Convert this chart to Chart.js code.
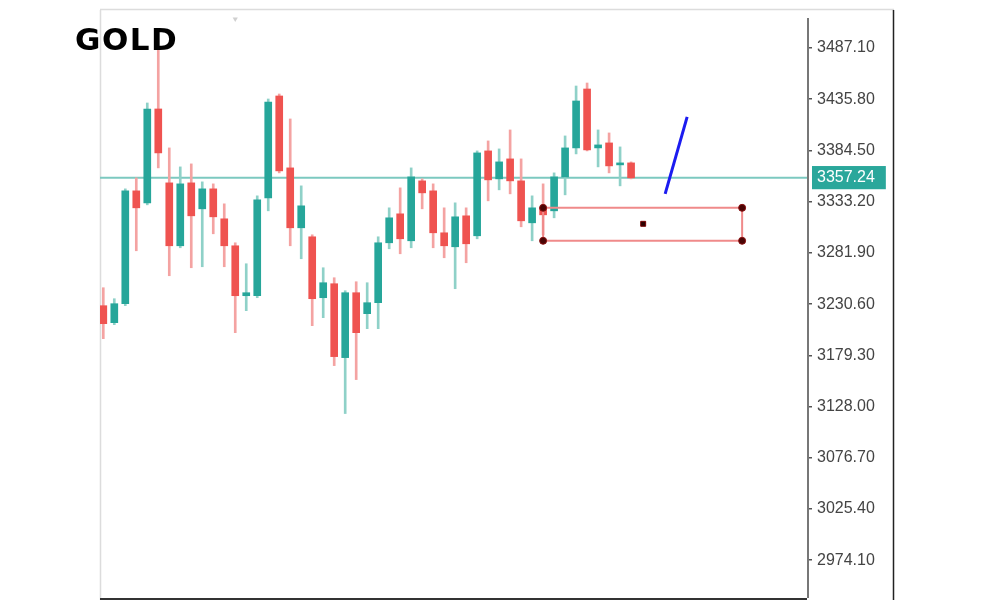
<!DOCTYPE html>
<html>
<head>
<meta charset="utf-8">
<script src="https://cdn.jsdelivr.net/npm/chart.js@4.4.1/dist/chart.umd.min.js"></script>
<style>
  html, body { margin: 0; padding: 0; background: #fff; }
  #wrap { position: relative; width: 1000px; height: 600px; }
  #title { position: absolute; left: 75px; top: 24px; font-family: "DejaVu Sans", sans-serif; font-weight: 700; font-size: 31px; line-height: 31px; letter-spacing: 1.5px; color: #000; z-index: 2; }
  canvas { position: absolute; left: 0; top: 0; }
</style>
</head>
<body>
<div id="wrap">
  <div id="title">GOLD</div>
  <canvas id="c" width="1000" height="600"></canvas>
</div>
<script>
// ---- data ----
const candleIndex = [0,1,2,3,4,5,6,7,8,9,10,11,12,13,14,15,16,17,18,19,20,21,22,23,24,25,26,27,28,29,30,31,32,33,34,35,36,37,38,39,40,41,42,43,44,45,46,47,48];
const openPrices  = [3229,3212,3231,3344,3332,3426,3352,3289,3352,3326,3346,3316,3289,3239,3239,3337,3439,3367,3307,3298,3237,3251,3177,3242,3221,3232,3292,3321,3294,3354,3344,3302,3288,3319,3299,3384,3356,3376,3354,3312,3327,3324,3358,3387,3446,3387,3392,3370,3372];
const highPrices  = [3247,3236,3346,3357,3432,3487,3387,3368,3371,3353,3351,3331,3292,3271,3339,3436,3441,3416,3349,3300,3267,3257,3244,3253,3252,3298,3327,3347,3367,3356,3351,3327,3332,3327,3384,3394,3386,3405,3376,3339,3351,3362,3399,3449,3452,3405,3402,3388,3373];
const lowPrices   = [3196,3210,3229,3284,3330,3367,3259,3287,3267,3268,3301,3268,3202,3224,3237,3324,3362,3289,3276,3209,3217,3169,3121,3155,3206,3206,3286,3281,3287,3326,3287,3277,3246,3272,3296,3334,3345,3341,3308,3294,3300,3317,3340,3381,3384,3368,3362,3349,3356];
const closePrices = [3211,3231,3344,3327,3426,3382,3289,3351,3319,3346,3318,3289,3239,3242,3335,3433,3364,3307,3329,3236,3252,3178,3242,3202,3232,3292,3317,3296,3358,3342,3302,3289,3318,3291,3382,3355,3373,3354,3314,3327,3320,3358,3387,3434,3385,3390,3369,3372,3357];
const priceTicks  = [2974.10,3025.40,3076.70,3128.00,3179.30,3230.60,3281.90,3333.20,3384.50,3435.80,3487.10];
const currentPrice = 3357.24;
const zoneBounds  = { x0: 40, x1: 58.1, top: 3327, bottom: 3294, midX: 49.1, midY: 3311 };
const trendLinePoints = [{x: 51.1, y: 3341}, {x: 53.1, y: 3418}];
const shiftMarker = [{x: 12, y: 3516}];

// ---- build datasets ----
const UP = '#26a69a', DOWN = '#ef5350', UP_WICK = '#8fd1c8', DOWN_WICK = '#f4a3a2';
const isUp = candleIndex.map(i => closePrices[i] >= openPrices[i]);

const bodies = candleIndex.map(i => ({x: i, y: [openPrices[i], closePrices[i]]}));
const wicks  = candleIndex.map(i => ({x: i, y: [lowPrices[i], highPrices[i]]}));

const xMin = -0.3, xMax = 64;
const zoneLine = [
  {x: zoneBounds.x0, y: zoneBounds.top}, {x: zoneBounds.x1, y: zoneBounds.top},
  {x: zoneBounds.x1, y: zoneBounds.bottom}, {x: zoneBounds.x0, y: zoneBounds.bottom},
  {x: zoneBounds.x0, y: zoneBounds.top}
];
const zoneCorners = [
  {x: zoneBounds.x0, y: zoneBounds.top}, {x: zoneBounds.x1, y: zoneBounds.top},
  {x: zoneBounds.x1, y: zoneBounds.bottom}, {x: zoneBounds.x0, y: zoneBounds.bottom}
];

const framePlugin = {
  id: 'frame',
  beforeDraw(chart) {
    const ctx = chart.ctx, a = chart.chartArea;
    ctx.save();
    ctx.strokeStyle = '#dcdcdc'; ctx.lineWidth = 1.5;
    ctx.beginPath();
    ctx.moveTo(a.left + 0.5, 10); ctx.lineTo(a.left + 0.5, 600);
    ctx.moveTo(a.left, 9.5); ctx.lineTo(894, 9.5);
    ctx.stroke();
    ctx.restore();
  },
  afterDraw(chart) {
    const ctx = chart.ctx, a = chart.chartArea;
    ctx.save();
    ctx.strokeStyle = '#777'; ctx.lineWidth = 2;
    ctx.beginPath(); ctx.moveTo(a.right + 1, 18); ctx.lineTo(a.right + 1, 598); ctx.stroke();
    ctx.strokeStyle = '#333'; ctx.lineWidth = 2;
    ctx.beginPath(); ctx.moveTo(a.left, 599); ctx.lineTo(a.right, 599); ctx.stroke();
    ctx.strokeStyle = '#222'; ctx.lineWidth = 1.5;
    ctx.beginPath(); ctx.moveTo(893.5, 10); ctx.lineTo(893.5, 600); ctx.stroke();
    ctx.restore();
  }
};

const allTicks = priceTicks.concat([currentPrice]).sort((a, b) => a - b);

new Chart(document.getElementById('c'), {
  type: 'bar',
  data: {
    datasets: [
      { type: 'line', data: [{x: xMin, y: currentPrice}, {x: xMax, y: currentPrice}], borderColor: '#7cc9c0', borderWidth: 2, pointRadius: 0, order: 6 },
      { type: 'bar', data: wicks, backgroundColor: candleIndex.map(i => isUp[i] ? UP_WICK : DOWN_WICK), barThickness: 2, grouped: false, borderWidth: 0, order: 5 },
      { type: 'bar', data: bodies, backgroundColor: candleIndex.map(i => isUp[i] ? UP : DOWN), barThickness: 7, grouped: false, borderWidth: 0, order: 4 },
      { type: 'line', data: zoneLine, borderColor: '#f08a8a', borderWidth: 2, pointRadius: 0, tension: 0, order: 3 },
      { type: 'scatter', data: zoneCorners, pointStyle: 'circle', pointRadius: 3.5, backgroundColor: '#4a0505', borderColor: '#8a1010', borderWidth: 1, order: 2 },
      { type: 'scatter', data: [{x: zoneBounds.midX, y: zoneBounds.midY}], pointStyle: 'rect', pointRadius: 3.5, backgroundColor: '#2a0000', borderColor: '#700', borderWidth: 1, order: 2 },
      { type: 'line', data: trendLinePoints, borderColor: '#1c1cf0', borderWidth: 3, pointRadius: 0, order: 1 },
      { type: 'scatter', data: shiftMarker, pointStyle: 'triangle', rotation: 180, pointRadius: 3, backgroundColor: '#d0d0d0', borderWidth: 0, order: 1 }
    ]
  },
  options: {
    responsive: false,
    animation: false,
    layout: { padding: { left: 100, top: 10, right: 0, bottom: 0 } },
    plugins: { legend: { display: false }, tooltip: { enabled: false } },
    scales: {
      x: { type: 'linear', min: xMin, max: xMax, offset: false, display: false },
      y: {
        position: 'right',
        min: 2939.3, max: 3525.1,
        afterBuildTicks(scale) { scale.ticks = allTicks.map(v => ({ value: v })); },
        afterFit(scale) { scale.width = 193; scale.paddingTop = 0; scale.paddingBottom = 0; },
        border: { display: false },
        grid: {
          drawOnChartArea: false, drawTicks: true, tickLength: 5, lineWidth: 1.5,
          color: ctx => (ctx.tick && ctx.tick.value === currentPrice) ? 'rgba(0,0,0,0)' : '#555'
        },
        ticks: {
          autoSkip: false,
          padding: 5,
          font: { family: 'Liberation Sans', size: 16 },
          color: ctx => (ctx.tick && ctx.tick.value === currentPrice) ? '#ffffff' : '#444',
          showLabelBackdrop: true,
          backdropColor: ctx => (ctx.tick && ctx.tick.value === currentPrice) ? '#2aa79b' : 'rgba(0,0,0,0)',
          backdropPadding: { left: 5, right: 11, top: 2, bottom: 2 },
          callback: v => Number(v).toFixed(2)
        }
      }
    }
  },
  plugins: [framePlugin]
});
</script>
</body>
</html>
